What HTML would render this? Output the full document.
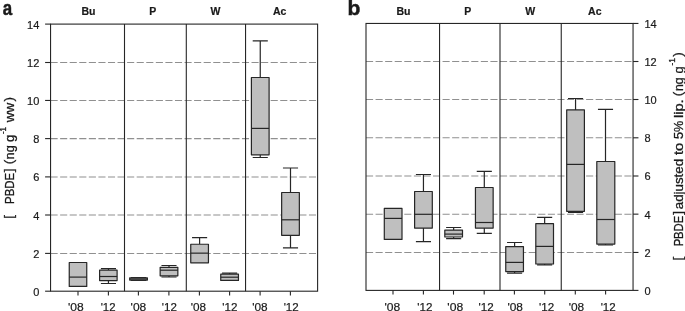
<!DOCTYPE html>
<html><head><meta charset="utf-8"><title>PBDE box plots</title>
<style>
html,body{margin:0;padding:0;background:#fff;}
body{width:685px;height:311px;overflow:hidden;}
svg{display:block;will-change:transform;filter:grayscale(1);}
text{stroke:#1a1a1a;stroke-width:0.2px;}
.ttl{stroke-width:0.3px;}
.pl{stroke-width:0.5px;}
text{font-family:"Liberation Sans",sans-serif;fill:#1a1a1a;}
</style></head>
<body>
<svg width="685" height="311" viewBox="0 0 685 311">
<rect width="685" height="311" fill="#fff"/>
<line x1="50.55" x2="317.60" y1="253.40" y2="253.40" stroke="#909090" stroke-width="1.05" stroke-dasharray="7.1 2.47"/>
<line x1="50.55" x2="317.60" y1="215.00" y2="215.00" stroke="#909090" stroke-width="1.05" stroke-dasharray="7.1 2.47"/>
<line x1="50.55" x2="317.60" y1="176.90" y2="176.90" stroke="#909090" stroke-width="1.05" stroke-dasharray="7.1 2.47"/>
<line x1="50.55" x2="317.60" y1="138.60" y2="138.60" stroke="#909090" stroke-width="1.05" stroke-dasharray="7.1 2.47"/>
<line x1="50.55" x2="317.60" y1="100.45" y2="100.45" stroke="#909090" stroke-width="1.05" stroke-dasharray="7.1 2.47"/>
<line x1="50.55" x2="317.60" y1="62.50" y2="62.50" stroke="#909090" stroke-width="1.05" stroke-dasharray="7.1 2.47"/>
<rect x="69.25" y="262.50" width="17.50" height="23.90" fill="#bfbfbf" stroke="#262626" stroke-width="1.2" stroke-linejoin="round"/>
<line x1="69.25" x2="86.75" y1="277.10" y2="277.10" stroke="#262626" stroke-width="1.2"/>
<path d="M108.45 270.10V268.60M100.90 268.60H116.00" stroke="#262626" stroke-width="1.2" fill="none"/>
<path d="M108.45 280.55V283.50M100.90 283.50H116.00" stroke="#262626" stroke-width="1.2" fill="none"/>
<rect x="99.60" y="270.10" width="17.50" height="10.45" fill="#bfbfbf" stroke="#262626" stroke-width="1.2" stroke-linejoin="round"/>
<line x1="99.60" x2="117.10" y1="276.50" y2="276.50" stroke="#262626" stroke-width="1.2"/>
<path d="M138.55 277.90V277.50M131.00 277.50H146.10" stroke="#262626" stroke-width="1.2" fill="none"/>
<path d="M138.55 280.10V280.50M131.00 280.50H146.10" stroke="#262626" stroke-width="1.2" fill="none"/>
<rect x="129.70" y="277.90" width="17.70" height="2.20" fill="#bfbfbf" stroke="#262626" stroke-width="1.2" stroke-linejoin="round"/>
<line x1="129.70" x2="147.40" y1="279.00" y2="279.00" stroke="#262626" stroke-width="1.2"/>
<path d="M169.00 267.30V265.50M161.45 265.50H176.55" stroke="#262626" stroke-width="1.2" fill="none"/>
<path d="M169.00 275.80V277.00M161.45 277.00H176.55" stroke="#262626" stroke-width="1.2" fill="none"/>
<rect x="160.15" y="267.30" width="17.70" height="8.50" fill="#bfbfbf" stroke="#262626" stroke-width="1.2" stroke-linejoin="round"/>
<line x1="160.15" x2="177.85" y1="270.20" y2="270.20" stroke="#262626" stroke-width="1.2"/>
<path d="M199.60 244.25V237.60M192.05 237.60H207.15" stroke="#262626" stroke-width="1.2" fill="none"/>
<rect x="190.75" y="244.25" width="17.70" height="18.55" fill="#bfbfbf" stroke="#262626" stroke-width="1.2" stroke-linejoin="round"/>
<line x1="190.75" x2="208.45" y1="253.15" y2="253.15" stroke="#262626" stroke-width="1.2"/>
<path d="M229.60 274.20V273.20M222.05 273.20H237.15" stroke="#262626" stroke-width="1.2" fill="none"/>
<rect x="220.75" y="274.20" width="17.70" height="6.20" fill="#bfbfbf" stroke="#262626" stroke-width="1.2" stroke-linejoin="round"/>
<line x1="220.75" x2="238.45" y1="277.20" y2="277.20" stroke="#262626" stroke-width="1.2"/>
<path d="M260.25 77.50V40.80M252.70 40.80H267.80" stroke="#262626" stroke-width="1.2" fill="none"/>
<path d="M260.25 154.80V157.50M252.70 157.50H267.80" stroke="#262626" stroke-width="1.2" fill="none"/>
<rect x="251.40" y="77.50" width="17.70" height="77.30" fill="#bfbfbf" stroke="#262626" stroke-width="1.2" stroke-linejoin="round"/>
<line x1="251.40" x2="269.10" y1="128.40" y2="128.40" stroke="#262626" stroke-width="1.2"/>
<path d="M290.50 192.50V168.00M282.95 168.00H298.05" stroke="#262626" stroke-width="1.2" fill="none"/>
<path d="M290.50 235.35V247.90M282.95 247.90H298.05" stroke="#262626" stroke-width="1.2" fill="none"/>
<rect x="281.65" y="192.50" width="17.70" height="42.85" fill="#bfbfbf" stroke="#262626" stroke-width="1.2" stroke-linejoin="round"/>
<line x1="281.65" x2="299.35" y1="219.80" y2="219.80" stroke="#262626" stroke-width="1.2"/>
<line x1="124.50" x2="124.50" y1="24.10" y2="291.20" stroke="#262626" stroke-width="1.1"/>
<line x1="186.30" x2="186.30" y1="24.10" y2="291.20" stroke="#262626" stroke-width="1.1"/>
<line x1="245.55" x2="245.55" y1="24.10" y2="291.20" stroke="#262626" stroke-width="1.1"/>
<rect x="50.55" y="24.10" width="267.05" height="267.10" fill="none" stroke="#262626" stroke-width="1.1"/>
<line x1="45.10" x2="50.55" y1="291.20" y2="291.20" stroke="#262626" stroke-width="1.1"/>
<line x1="45.10" x2="50.55" y1="253.40" y2="253.40" stroke="#262626" stroke-width="1.1"/>
<line x1="45.10" x2="50.55" y1="215.00" y2="215.00" stroke="#262626" stroke-width="1.1"/>
<line x1="45.10" x2="50.55" y1="176.90" y2="176.90" stroke="#262626" stroke-width="1.1"/>
<line x1="45.10" x2="50.55" y1="138.60" y2="138.60" stroke="#262626" stroke-width="1.1"/>
<line x1="45.10" x2="50.55" y1="100.45" y2="100.45" stroke="#262626" stroke-width="1.1"/>
<line x1="45.10" x2="50.55" y1="62.50" y2="62.50" stroke="#262626" stroke-width="1.1"/>
<line x1="45.10" x2="50.55" y1="24.10" y2="24.10" stroke="#262626" stroke-width="1.1"/>
<line x1="78.00" x2="78.00" y1="291.20" y2="295.40" stroke="#262626" stroke-width="1.1"/>
<line x1="108.40" x2="108.40" y1="291.20" y2="295.40" stroke="#262626" stroke-width="1.1"/>
<line x1="138.40" x2="138.40" y1="291.20" y2="295.40" stroke="#262626" stroke-width="1.1"/>
<line x1="168.90" x2="168.90" y1="291.20" y2="295.40" stroke="#262626" stroke-width="1.1"/>
<line x1="199.40" x2="199.40" y1="291.20" y2="295.40" stroke="#262626" stroke-width="1.1"/>
<line x1="229.60" x2="229.60" y1="291.20" y2="295.40" stroke="#262626" stroke-width="1.1"/>
<line x1="260.10" x2="260.10" y1="291.20" y2="295.40" stroke="#262626" stroke-width="1.1"/>
<line x1="290.40" x2="290.40" y1="291.20" y2="295.40" stroke="#262626" stroke-width="1.1"/>
<line x1="366.00" x2="633.05" y1="252.45" y2="252.45" stroke="#909090" stroke-width="1.05" stroke-dasharray="7.1 2.47"/>
<line x1="366.00" x2="633.05" y1="214.15" y2="214.15" stroke="#909090" stroke-width="1.05" stroke-dasharray="7.1 2.47"/>
<line x1="366.00" x2="633.05" y1="176.00" y2="176.00" stroke="#909090" stroke-width="1.05" stroke-dasharray="7.1 2.47"/>
<line x1="366.00" x2="633.05" y1="137.80" y2="137.80" stroke="#909090" stroke-width="1.05" stroke-dasharray="7.1 2.47"/>
<line x1="366.00" x2="633.05" y1="99.50" y2="99.50" stroke="#909090" stroke-width="1.05" stroke-dasharray="7.1 2.47"/>
<line x1="366.00" x2="633.05" y1="61.50" y2="61.50" stroke="#909090" stroke-width="1.05" stroke-dasharray="7.1 2.47"/>
<rect x="384.30" y="208.40" width="17.70" height="31.00" fill="#bfbfbf" stroke="#262626" stroke-width="1.2" stroke-linejoin="round"/>
<line x1="384.30" x2="402.00" y1="218.40" y2="218.40" stroke="#262626" stroke-width="1.2"/>
<path d="M423.45 191.50V174.50M415.90 174.50H431.00" stroke="#262626" stroke-width="1.2" fill="none"/>
<path d="M423.45 228.10V241.60M415.90 241.60H431.00" stroke="#262626" stroke-width="1.2" fill="none"/>
<rect x="414.60" y="191.50" width="17.70" height="36.60" fill="#bfbfbf" stroke="#262626" stroke-width="1.2" stroke-linejoin="round"/>
<line x1="414.60" x2="432.30" y1="214.30" y2="214.30" stroke="#262626" stroke-width="1.2"/>
<path d="M453.65 230.10V227.50M446.10 227.50H461.20" stroke="#262626" stroke-width="1.2" fill="none"/>
<path d="M453.65 237.00V238.60M446.10 238.60H461.20" stroke="#262626" stroke-width="1.2" fill="none"/>
<rect x="444.80" y="230.10" width="17.70" height="6.90" fill="#bfbfbf" stroke="#262626" stroke-width="1.2" stroke-linejoin="round"/>
<line x1="444.80" x2="462.50" y1="234.10" y2="234.10" stroke="#262626" stroke-width="1.2"/>
<path d="M484.30 187.50V171.40M476.75 171.40H491.85" stroke="#262626" stroke-width="1.2" fill="none"/>
<path d="M484.30 228.10V233.40M476.75 233.40H491.85" stroke="#262626" stroke-width="1.2" fill="none"/>
<rect x="475.45" y="187.50" width="17.70" height="40.60" fill="#bfbfbf" stroke="#262626" stroke-width="1.2" stroke-linejoin="round"/>
<line x1="475.45" x2="493.15" y1="222.50" y2="222.50" stroke="#262626" stroke-width="1.2"/>
<path d="M514.60 246.60V242.50M507.05 242.50H522.15" stroke="#262626" stroke-width="1.2" fill="none"/>
<path d="M514.60 271.60V273.10M507.05 273.10H522.15" stroke="#262626" stroke-width="1.2" fill="none"/>
<rect x="505.75" y="246.60" width="17.70" height="25.00" fill="#bfbfbf" stroke="#262626" stroke-width="1.2" stroke-linejoin="round"/>
<line x1="505.75" x2="523.45" y1="262.40" y2="262.40" stroke="#262626" stroke-width="1.2"/>
<path d="M544.65 223.70V217.30M537.10 217.30H552.20" stroke="#262626" stroke-width="1.2" fill="none"/>
<path d="M544.65 264.00V264.80M537.10 264.80H552.20" stroke="#262626" stroke-width="1.2" fill="none"/>
<rect x="535.80" y="223.70" width="17.70" height="40.30" fill="#bfbfbf" stroke="#262626" stroke-width="1.2" stroke-linejoin="round"/>
<line x1="535.80" x2="553.50" y1="246.40" y2="246.40" stroke="#262626" stroke-width="1.2"/>
<path d="M575.55 109.90V98.50M568.00 98.50H583.10" stroke="#262626" stroke-width="1.2" fill="none"/>
<path d="M575.55 211.30V212.30M568.00 212.30H583.10" stroke="#262626" stroke-width="1.2" fill="none"/>
<rect x="566.70" y="109.90" width="17.70" height="101.40" fill="#bfbfbf" stroke="#262626" stroke-width="1.2" stroke-linejoin="round"/>
<line x1="566.70" x2="584.40" y1="164.40" y2="164.40" stroke="#262626" stroke-width="1.2"/>
<path d="M605.50 161.50V109.45M597.95 109.45H613.05" stroke="#262626" stroke-width="1.2" fill="none"/>
<path d="M605.50 244.10V245.00M597.95 245.00H613.05" stroke="#262626" stroke-width="1.2" fill="none"/>
<rect x="596.80" y="161.50" width="18.00" height="82.60" fill="#bfbfbf" stroke="#262626" stroke-width="1.2" stroke-linejoin="round"/>
<line x1="596.80" x2="614.80" y1="219.50" y2="219.50" stroke="#262626" stroke-width="1.2"/>
<line x1="439.55" x2="439.55" y1="23.45" y2="290.40" stroke="#262626" stroke-width="1.1"/>
<line x1="500.00" x2="500.00" y1="23.45" y2="290.40" stroke="#262626" stroke-width="1.1"/>
<line x1="561.25" x2="561.25" y1="23.45" y2="290.40" stroke="#262626" stroke-width="1.1"/>
<rect x="366.00" y="23.45" width="267.05" height="266.95" fill="none" stroke="#262626" stroke-width="1.1"/>
<line x1="633.05" x2="638.45" y1="290.40" y2="290.40" stroke="#262626" stroke-width="1.1"/>
<line x1="633.05" x2="638.45" y1="252.45" y2="252.45" stroke="#262626" stroke-width="1.1"/>
<line x1="633.05" x2="638.45" y1="214.15" y2="214.15" stroke="#262626" stroke-width="1.1"/>
<line x1="633.05" x2="638.45" y1="176.00" y2="176.00" stroke="#262626" stroke-width="1.1"/>
<line x1="633.05" x2="638.45" y1="137.80" y2="137.80" stroke="#262626" stroke-width="1.1"/>
<line x1="633.05" x2="638.45" y1="99.50" y2="99.50" stroke="#262626" stroke-width="1.1"/>
<line x1="633.05" x2="638.45" y1="61.50" y2="61.50" stroke="#262626" stroke-width="1.1"/>
<line x1="633.05" x2="638.45" y1="23.45" y2="23.45" stroke="#262626" stroke-width="1.1"/>
<line x1="393.00" x2="393.00" y1="290.40" y2="294.60" stroke="#262626" stroke-width="1.1"/>
<line x1="423.40" x2="423.40" y1="290.40" y2="294.60" stroke="#262626" stroke-width="1.1"/>
<line x1="453.50" x2="453.50" y1="290.40" y2="294.60" stroke="#262626" stroke-width="1.1"/>
<line x1="484.20" x2="484.20" y1="290.40" y2="294.60" stroke="#262626" stroke-width="1.1"/>
<line x1="514.40" x2="514.40" y1="290.40" y2="294.60" stroke="#262626" stroke-width="1.1"/>
<line x1="544.70" x2="544.70" y1="290.40" y2="294.60" stroke="#262626" stroke-width="1.1"/>
<line x1="575.30" x2="575.30" y1="290.40" y2="294.60" stroke="#262626" stroke-width="1.1"/>
<line x1="605.60" x2="605.60" y1="290.40" y2="294.60" stroke="#262626" stroke-width="1.1"/>
<text x="2.80" y="15.20" font-size="21" text-anchor="start" font-weight="bold" textLength="9.40" lengthAdjust="spacingAndGlyphs" class="pl">a</text>
<text x="347.60" y="15.20" font-size="21" text-anchor="start" font-weight="bold" class="pl">b</text>
<text x="88.40" y="15.20" font-size="10.5" text-anchor="middle" font-weight="bold">Bu</text>
<text x="152.80" y="15.20" font-size="10.5" text-anchor="middle" font-weight="bold">P</text>
<text x="215.50" y="15.20" font-size="10.5" text-anchor="middle" font-weight="bold">W</text>
<text x="279.70" y="15.20" font-size="10.5" text-anchor="middle" font-weight="bold">Ac</text>
<text x="403.50" y="15.20" font-size="10.5" text-anchor="middle" font-weight="bold">Bu</text>
<text x="467.85" y="15.20" font-size="10.5" text-anchor="middle" font-weight="bold">P</text>
<text x="530.30" y="15.20" font-size="10.5" text-anchor="middle" font-weight="bold">W</text>
<text x="594.80" y="15.20" font-size="10.5" text-anchor="middle" font-weight="bold">Ac</text>
<text x="39.30" y="295.70" font-size="11" text-anchor="end" font-weight="normal">0</text>
<text x="644.40" y="294.80" font-size="11" text-anchor="start" font-weight="normal">0</text>
<text x="39.30" y="257.90" font-size="11" text-anchor="end" font-weight="normal">2</text>
<text x="644.40" y="256.85" font-size="11" text-anchor="start" font-weight="normal">2</text>
<text x="39.30" y="219.50" font-size="11" text-anchor="end" font-weight="normal">4</text>
<text x="644.40" y="218.55" font-size="11" text-anchor="start" font-weight="normal">4</text>
<text x="39.30" y="181.40" font-size="11" text-anchor="end" font-weight="normal">6</text>
<text x="644.40" y="180.40" font-size="11" text-anchor="start" font-weight="normal">6</text>
<text x="39.30" y="143.10" font-size="11" text-anchor="end" font-weight="normal">8</text>
<text x="644.40" y="142.20" font-size="11" text-anchor="start" font-weight="normal">8</text>
<text x="39.30" y="104.95" font-size="11" text-anchor="end" font-weight="normal">10</text>
<text x="644.40" y="103.90" font-size="11" text-anchor="start" font-weight="normal">10</text>
<text x="39.30" y="67.00" font-size="11" text-anchor="end" font-weight="normal">12</text>
<text x="644.40" y="65.90" font-size="11" text-anchor="start" font-weight="normal">12</text>
<text x="39.30" y="28.60" font-size="11" text-anchor="end" font-weight="normal">14</text>
<text x="644.40" y="27.85" font-size="11" text-anchor="start" font-weight="normal">14</text>
<text x="67.94" y="310.60" font-size="11.5" text-anchor="start" font-weight="normal" textLength="15.74" lengthAdjust="spacingAndGlyphs">'08</text>
<text x="100.67" y="310.60" font-size="11.5" text-anchor="start" font-weight="normal" textLength="14.85" lengthAdjust="spacingAndGlyphs">'12</text>
<text x="130.64" y="310.60" font-size="11.5" text-anchor="start" font-weight="normal" textLength="15.63" lengthAdjust="spacingAndGlyphs">'08</text>
<text x="161.76" y="310.60" font-size="11.5" text-anchor="start" font-weight="normal" textLength="15.07" lengthAdjust="spacingAndGlyphs">'12</text>
<text x="190.65" y="310.60" font-size="11.5" text-anchor="start" font-weight="normal" textLength="15.31" lengthAdjust="spacingAndGlyphs">'08</text>
<text x="222.26" y="310.60" font-size="11.5" text-anchor="start" font-weight="normal" textLength="15.18" lengthAdjust="spacingAndGlyphs">'12</text>
<text x="252.15" y="310.60" font-size="11.5" text-anchor="start" font-weight="normal" textLength="15.41" lengthAdjust="spacingAndGlyphs">'08</text>
<text x="283.66" y="310.60" font-size="11.5" text-anchor="start" font-weight="normal" textLength="15.07" lengthAdjust="spacingAndGlyphs">'12</text>
<text x="384.54" y="310.60" font-size="11.5" text-anchor="start" font-weight="normal" textLength="15.74" lengthAdjust="spacingAndGlyphs">'08</text>
<text x="417.36" y="310.60" font-size="11.5" text-anchor="start" font-weight="normal" textLength="15.18" lengthAdjust="spacingAndGlyphs">'12</text>
<text x="447.33" y="310.60" font-size="11.5" text-anchor="start" font-weight="normal" textLength="15.85" lengthAdjust="spacingAndGlyphs">'08</text>
<text x="478.56" y="310.60" font-size="11.5" text-anchor="start" font-weight="normal" textLength="15.18" lengthAdjust="spacingAndGlyphs">'12</text>
<text x="507.45" y="310.60" font-size="11.5" text-anchor="start" font-weight="normal" textLength="15.52" lengthAdjust="spacingAndGlyphs">'08</text>
<text x="539.06" y="310.60" font-size="11.5" text-anchor="start" font-weight="normal" textLength="15.18" lengthAdjust="spacingAndGlyphs">'12</text>
<text x="568.65" y="310.60" font-size="11.5" text-anchor="start" font-weight="normal" textLength="15.52" lengthAdjust="spacingAndGlyphs">'08</text>
<text x="600.66" y="310.60" font-size="11.5" text-anchor="start" font-weight="normal" textLength="15.07" lengthAdjust="spacingAndGlyphs">'12</text>
<text class="ttl" transform="translate(12.60 218.70) rotate(-90)" font-size="13.5">[</text>
<text class="ttl" transform="translate(13.60 203.88) rotate(-90)" font-size="13.5" textLength="31.02" lengthAdjust="spacingAndGlyphs">PBDE</text>
<text class="ttl" transform="translate(12.60 172.15) rotate(-90)" font-size="13.5">]</text>
<text class="ttl" transform="translate(12.60 164.33) rotate(-90)" font-size="13.5">(</text>
<text class="ttl" transform="translate(13.60 159.40) rotate(-90)" font-size="13.5" textLength="14.17" lengthAdjust="spacingAndGlyphs">ng</text>
<text class="ttl" transform="translate(13.60 141.90) rotate(-90)" font-size="13.5" textLength="7.30" lengthAdjust="spacingAndGlyphs">g</text>
<text class="ttl" transform="translate(6.20 134.10) rotate(-90)" font-size="8.5" textLength="7.04" lengthAdjust="spacingAndGlyphs">-1</text>
<text class="ttl" transform="translate(13.60 122.23) rotate(-90)" font-size="13.5" textLength="19.35" lengthAdjust="spacingAndGlyphs">ww</text>
<text class="ttl" transform="translate(12.60 101.47) rotate(-90)" font-size="13.5">)</text>
<text class="ttl" transform="translate(681.60 260.55) rotate(-90)" font-size="13.5">[</text>
<text class="ttl" transform="translate(682.60 246.37) rotate(-90)" font-size="13.5" textLength="30.50" lengthAdjust="spacingAndGlyphs">PBDE</text>
<text class="ttl" transform="translate(681.60 214.70) rotate(-90)" font-size="13.5">]</text>
<text class="ttl" transform="translate(682.60 209.22) rotate(-90)" font-size="13.5" textLength="50.32" lengthAdjust="spacingAndGlyphs">adjusted</text>
<text class="ttl" transform="translate(682.60 155.07) rotate(-90)" font-size="13.5" textLength="12.24" lengthAdjust="spacingAndGlyphs">to</text>
<text class="ttl" transform="translate(682.60 139.06) rotate(-90)" font-size="13.5" textLength="18.26" lengthAdjust="spacingAndGlyphs">5%</text>
<text class="ttl" transform="translate(682.60 118.04) rotate(-90)" font-size="13.5" textLength="18.72" lengthAdjust="spacingAndGlyphs">lip.</text>
<text class="ttl" transform="translate(681.60 96.23) rotate(-90)" font-size="13.5">(</text>
<text class="ttl" transform="translate(682.60 90.96) rotate(-90)" font-size="13.5" textLength="13.60" lengthAdjust="spacingAndGlyphs">ng</text>
<text class="ttl" transform="translate(682.60 73.49) rotate(-90)" font-size="13.5" textLength="7.17" lengthAdjust="spacingAndGlyphs">g</text>
<text class="ttl" transform="translate(675.20 65.52) rotate(-90)" font-size="8.5" textLength="7.49" lengthAdjust="spacingAndGlyphs">-1</text>
<text class="ttl" transform="translate(681.60 56.72) rotate(-90)" font-size="13.5">)</text>
</svg>
</body></html>
